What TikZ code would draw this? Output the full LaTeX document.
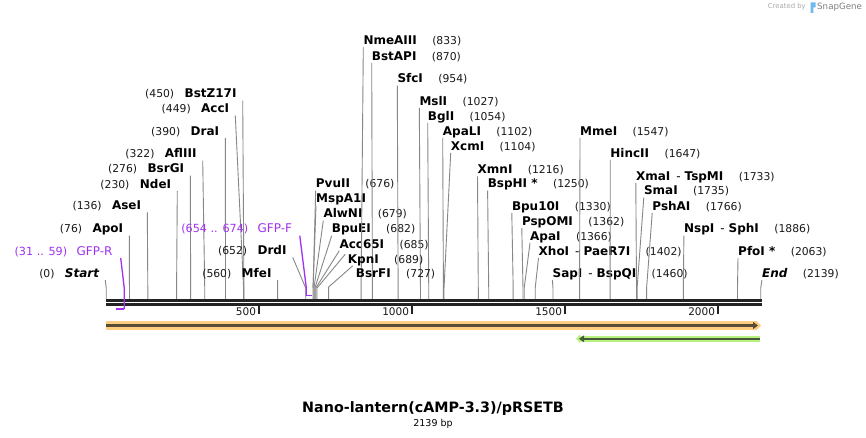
\documentclass[tikz,border=0pt]{standalone}
\usepackage{fontspec}
\setmainfont{DejaVu Sans}
\usetikzlibrary{positioning,arrows.meta,calc}
\definecolor{sgInk}{RGB}{0,0,0}
\definecolor{sgNum}{RGB}{25,25,25}
\definecolor{sgLeader}{RGB}{135,135,135}
\definecolor{sgPurple}{RGB}{160,50,240}
\definecolor{sgBone}{RGB}{35,35,35}
\definecolor{ampFill}{RGB}{255,205,130}
\definecolor{ampLine}{RGB}{90,75,55}
\definecolor{tagFill}{RGB}{185,240,130}
\definecolor{tagLine}{RGB}{70,90,55}
\definecolor{sgBlue}{RGB}{110,185,240}
\definecolor{wmGray}{RGB}{170,170,170}
\newcommand{\bpx}[1]{106.2+0.306*#1}
\newcommand{\dashsep}{\hspace{6pt}{\mdseries -}\hspace{4pt}}

\begin{document}
\begin{tikzpicture}[
    x=1pt, y=-1pt,
    site/.style={inner sep=0pt, text height=8.5pt, text depth=2.5pt, text=sgInk, font=\bfseries\fontsize{12}{12}\selectfont},
    endsite/.style={site, font=\bfseries\itshape\fontsize{12}{12}\selectfont},
    posn/.style={inner sep=0pt, text height=8.5pt, text depth=2.5pt, text=sgNum, font=\fontsize{10.8}{11}\selectfont},
    primer/.style={inner sep=0pt, text height=8.5pt, text depth=2.5pt, text=sgPurple, font=\fontsize{12}{12}\selectfont},
    primernum/.style={primer, font=\fontsize{11.2}{12}\selectfont},
    leader/.style={draw=sgLeader, line width=0.9pt},
    primerline/.style={draw=sgPurple, line width=1.3pt},
    primerbar/.style={draw=sgPurple, line width=1.8pt},
    backbone/.style={draw=sgBone, line width=2.5pt},
    tickmark/.style={draw=sgBone, line width=2pt},
    ticklabel/.style={inner sep=0pt, text=sgNum, font=\fontsize{10.5}{11}\selectfont},
    ampband/.style={draw=ampFill, line width=9.3pt, -{Triangle[length=5pt,width=10pt]}},
    ampline/.style={draw=ampLine, fill=ampLine, line width=2.3pt, -{Triangle[length=5pt,width=7pt]}},
    tagband/.style={draw=tagFill, line width=5.7pt, {Triangle[length=4pt,width=8pt]}-},
    tagline/.style={draw=tagLine, fill=tagLine, line width=2.4pt, {Triangle[length=5pt,width=6.5pt]}-},
    titletext/.style={inner sep=0pt, font=\bfseries\fontsize{14.3}{15}\selectfont},
    subtitle/.style={inner sep=0pt, font=\fontsize{9.5}{10}\selectfont},
    wm/.style={inner sep=0pt, text=wmGray}
]
  \useasboundingbox[fill=white] (0,0) rectangle (866,438);

  \coordinate (bbL) at (106,300.3);
  \coordinate (bbR) at (761.5,300.3);
  \coordinate (bbTop) at (0,299);

  % cut sites, number left of the name
  \node[endsite, anchor=east] (start) at (99.3,274.5) {Start};
  \node[posn, left=10pt of start] (start-n) {(0)};
  \coordinate (cstart) at ({\bpx{0}},288);
  \draw[leader] ([xshift=6pt]start.south east) -- (cstart) -- (cstart |- bbTop);
  \foreach \id/\name/\bp/\rx/\ty in {apoi/ApoI/76/123.3/230, asei/AseI/136/141.3/206.7,
      ndei/NdeI/230/171.3/185.3, bsrgi/BsrGI/276/184.3/170, afliii/AflIII/322/196.7/155,
      drai/DraI/390/219.3/132.3, acci/AccI/449/229.3/110, bstz/BstZ17I/450/236.7/95,
      mfei/MfeI/560/271.7/274.5, drdi/DrdI/652/286.7/251.7} {
    \node[site, anchor=east] (\id) at (\rx,\ty) {\name};
    \node[posn, left=10pt of \id] (\id-n) {(\bp)};
    \coordinate (c\id) at ({\bpx{\bp}},288);
    \draw[leader] ([xshift=6pt]\id.south east) -- (c\id) -- (c\id |- bbTop);
  }

  % cut sites, number right of the name
  \foreach \id/\name/\bp/\lx/\ty in {pvuii/PvuII/676/315.7/185, alwni/AlwNI/679/323.3/215,
      bpuei/BpuEI/682/331.7/230, acc/Acc65I/685/339.3/245,
      nmeaiii/NmeAIII/833/363.3/41.7, bstapi/BstAPI/870/371.7/57.3, sfci/SfcI/954/397.3/80,
      msli/MslI/1027/419.3/102.3, bgli/BglI/1054/427.7/117.3, apali/ApaLI/1102/442.7/132.3,
      xcmi/XcmI/1104/450.7/147.3, xmni/XmnI/1216/477.5/170.7, bsphi/BspHI */1250/487.6/185,
      bpu/Bpu10I/1330/511.8/207.3, pspomi/PspOMI/1362/521.8/222.3, apai/ApaI/1366/530/237.3,
      xhoi/{XhoI\dashsep PaeR7I}/1402/538.5/252.3, sapi/{SapI\dashsep BspQI}/1460/552.4/274.5,
      mmei/MmeI/1547/580/132.3, hincii/HincII/1647/610.2/154.3,
      xmai/{XmaI\dashsep TspMI}/1733/635.8/177.3, smai/SmaI/1735/643.8/191.7,
      pshai/PshAI/1766/652.2/207.3, nspi/{NspI\dashsep SphI}/1886/683.9/230,
      pfoi/PfoI */2063/738/252.3} {
    \node[site, anchor=west] (\id) at (\lx,\ty) {\name};
    \node[posn, right=15pt of \id] (\id-n) {(\bp)};
    \coordinate (c\id) at ({\bpx{\bp}},288);
    \draw[leader] (\id.south west) -- (c\id) -- (c\id |- bbTop);
  }
  \node[site, anchor=west] (mspa) at (316,200) {MspA1I};
  \draw[leader] (mspa.south west) -- (cpvuii);
  \node[site, anchor=west] (kpni) at (347.7,260) {KpnI};
  \node[posn, right=15pt of kpni] (kpni-n) {(689)};
  \coordinate (ckpni) at ({\bpx{689}},288);
  \draw[leader] ([xshift=-2.5pt]kpni.north west) -- (ckpni) -- (ckpni |- bbTop);
  \node[site, anchor=west] (bsrfi) at (355.7,274.5) {BsrFI};
  \node[posn, right=15pt of bsrfi] (bsrfi-n) {(727)};
  \coordinate (cbsrfi) at ({\bpx{727}},287);
  \draw[leader] ([xshift=-3pt,yshift=3pt]bsrfi.north west) -- (cbsrfi) -- (cbsrfi |- bbTop);
  \node[endsite, anchor=west] (end) at (761.9,274.5) {End};
  \node[posn, right=15pt of end] (end-n) {(2139)};
  \coordinate (cend) at ({\bpx{2139}},288);
  \draw[leader] (end.south west) -- (cend) -- (cend |- bbTop);

  \draw[backbone] (bbL) -- (bbR);
  \draw[backbone] ([yshift=-4.2pt]bbL) -- ([yshift=-4.2pt]bbR);
  \foreach \t in {500,1000,1500,2000} {
    \coordinate (tk\t) at ({\bpx{\t}},306);
    \draw[tickmark] (tk\t) -- ++(0,8);
    \node[ticklabel, anchor=east] (tl\t) at ([xshift=-3pt,yshift=-6pt]tk\t) {\t};
  }

  % primers
  \node[primer, anchor=east] (gfpr) at (112.7,252.3) {GFP-R};
  \node[primernum, left=9pt of gfpr] (gfpr-n) {(31 .. 59)};
  \coordinate (p59) at ({\bpx{59}},288);
  \coordinate (p31) at ({\bpx{31}},309);
  \draw[primerline] ([xshift=8pt]gfpr.south east) -- (p59) -- (p59 |- p31);
  \draw[primerbar] (p59 |- p31) -- (p31);
  \node[primer, anchor=east] (gfpf) at (292.3,230) {GFP-F};
  \node[primernum, left=9pt of gfpf] (gfpf-n) {(654 .. 674)};
  \coordinate (p654) at ({\bpx{654}},288);
  \coordinate (p674) at ({\bpx{674}},295.5);
  \draw[primerline] ([xshift=7.5pt]gfpf.south east) -- (p654) -- (p654 |- p674);
  \draw[primerbar] (p654 |- p674) -- (p674);

  % features
  \coordinate (ampA) at (106,325.5);
  \coordinate (ampB) at (761,325.5);
  \draw[ampband] (ampA) -- (ampB);
  \draw[ampline] (ampA) -- ([xshift=-3pt]ampB);
  \coordinate (tagA) at (576,338.8);
  \coordinate (tagB) at (759.5,338.8);
  \draw[tagband] (tagA) -- (tagB);
  \draw[tagline] ([xshift=3pt]tagA) -- (tagB);

  \node[titletext] (title) at (433,408.3) {Nano-lantern(cAMP-3.3)/pRSETB};
  \node[subtitle, below=4pt of title] (size) {2139 bp};

  \node[wm, anchor=east, font=\fontsize{6.9}{7}\selectfont] (wm-created) at (806,7) {Created by};
  \fill[sgBlue] (810.5,2.5) -- (815.5,2.5) -- (815.5,7.5) -- (813.3,7.5) -- (813.3,13) -- (810.5,13) -- cycle;
  \node[wm, anchor=west, text=gray, font=\fontsize{8.7}{9}\selectfont] (wm-snap) at (817,7.3) {SnapGene};
\end{tikzpicture}
\end{document}
